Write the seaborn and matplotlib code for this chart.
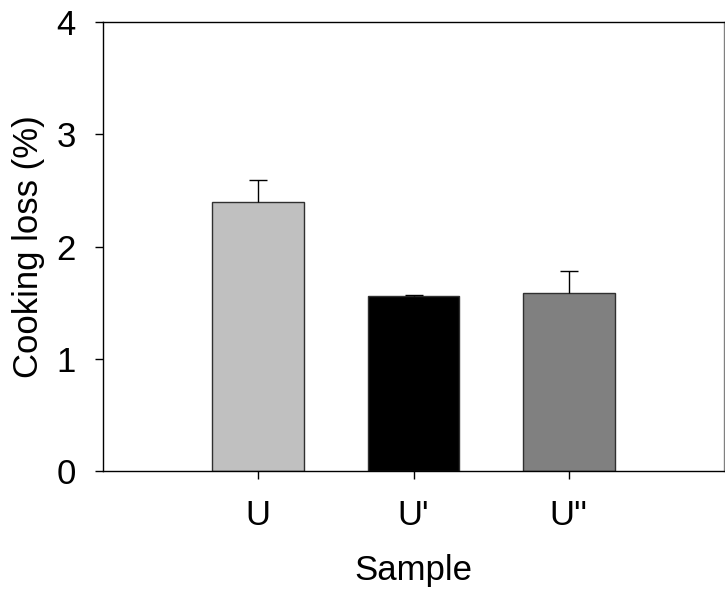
import numpy as np
import pandas as pd
import matplotlib
matplotlib.use("Agg")
import matplotlib.pyplot as plt
import seaborn as sns

# Cooking loss per sample: mean and standard deviation
samples = ["U", "U'", "U''"]
means = [2.40, 1.56, 1.59]
sds = [0.19, 0.01, 0.19]
bar_colors = ["#c0c0c0", "#000000", "#808080"]
y_ticks = [0, 1, 2, 3, 4]

sns.set_style("ticks")
plt.rcParams["font.family"] = ["Liberation Sans", "DejaVu Sans"]
plt.rcParams["text.color"] = "black"
plt.rcParams["axes.labelcolor"] = "black"
plt.rcParams["xtick.color"] = "black"
plt.rcParams["ytick.color"] = "black"

df = pd.DataFrame({"Sample": samples, "loss": means})

fig = plt.figure(figsize=(7.25, 5.94), dpi=100)
ax = fig.add_axes([103 / 725, 123 / 594, 621 / 725, 449 / 594])

sns.barplot(data=df, x="Sample", y="loss", hue="Sample", palette=bar_colors,
            order=samples, hue_order=samples, legend=False, errorbar=None,
            width=0.59, edgecolor="#303030", linewidth=1.0, ax=ax)

# upper-only error bars: hide the cap sitting on top of each bar
_, caplines, _ = ax.errorbar(np.arange(len(samples)), means,
                             yerr=[np.zeros(len(sds)), sds],
                             fmt="none", ecolor="black", elinewidth=1.0,
                             capsize=6.5, capthick=1.0)
for cap in caplines:
    if np.allclose(cap.get_ydata(), means):
        cap.set_visible(False)

ax.set_xlim(-1, 3)
ax.set_ylim(0, 4)
ax.set_yticks(y_ticks)
ax.set_yticklabels([str(t) for t in y_ticks])

for side in ["top", "right", "left", "bottom"]:
    ax.spines[side].set_visible(True)
    ax.spines[side].set_color("black")
    ax.spines[side].set_linewidth(1.0)
ax.spines["right"].set_color("#808080")

ax.tick_params(axis="both", direction="out", length=6, width=1.0,
               labelsize=25, color="black", labelcolor="black")
ax.tick_params(axis="x", pad=14)
ax.tick_params(axis="y", pad=13.5)

ax.set_xlabel("Sample", fontsize=25, labelpad=16, color="black")
ax.set_ylabel("Cooking loss (%)", fontsize=25, labelpad=8.5, color="black")

fig.savefig("out.png", dpi=100)
